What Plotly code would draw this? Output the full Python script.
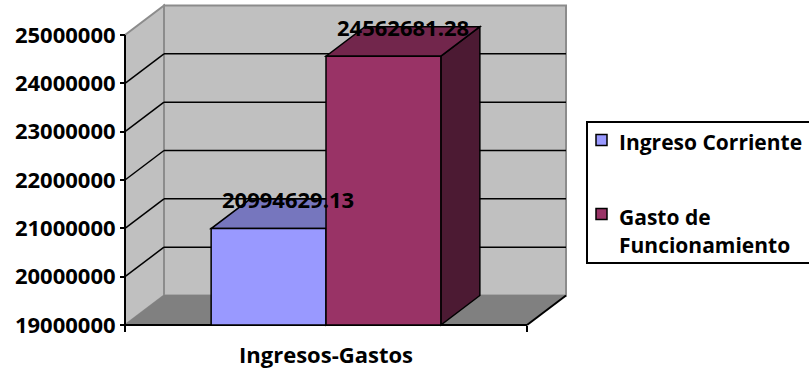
import plotly.graph_objects as go

# ---- data ----
category = "Ingresos-Gastos"
series_names = ["Ingreso Corriente", "Gasto de Funcionamiento"]
legend_lines = [["Ingreso Corriente"], ["Gasto de", "Funcionamiento"]]
values = [20994629.13, 24562681.28]
label_texts = ["20994629.13", "24562681.28"]
y_ticks = [19000000, 20000000, 21000000, 22000000, 23000000, 24000000, 25000000]

front_colors = ["#9999FF", "#993366"]
top_colors = ["#7676BE", "#72264C"]
side_colors = ["#4C4C80", "#4C1A33"]

# ---- geometry (layout) ----
W, H = 809, 368
AX_L, AX_R = 125, 527          # front plane pixel extent
AX_T, AX_B = 35, 325
YMIN, YMAX = y_ticks[0], y_ticks[-1]
px_per_val = (AX_B - AX_T) / (YMAX - YMIN)
px_per_x = (AX_R - AX_L) / 1.0
x_range = [-0.5 - AX_L / px_per_x, -0.5 + (W - AX_L) / px_per_x]
y_range = [YMIN - (H - AX_B) / px_per_val, YMAX + AX_T / px_per_val]
DX = 39 / px_per_x             # depth offset in x units
DY = 29.5 / px_per_val         # depth offset in value units
BW = 1 / 3.5                   # bar width (gap width 150%)
BASE = YMIN

FONT = "Open Sans"
FS = 22
FS_LEG = 21


def path(pts):
    return "M " + " L ".join(f"{x},{y}" for x, y in pts) + " Z"


shapes = []


def poly(pts, fill, line_color, lw):
    shapes.append(dict(type="path", path=path(pts), xref="x", yref="y",
                       fillcolor=fill, line=dict(color=line_color, width=lw),
                       layer="below"))


def seg(x0, y0, x1, y1, color, lw):
    shapes.append(dict(type="line", x0=x0, y0=y0, x1=x1, y1=y1, xref="x", yref="y",
                       line=dict(color=color, width=lw), layer="below"))


# walls and floor
poly([(-0.5 + DX, BASE + DY), (0.5 + DX, BASE + DY), (0.5 + DX, YMAX + DY), (-0.5 + DX, YMAX + DY)],
     "#C0C0C0", "#8C8C8C", 2)
poly([(-0.5, BASE), (-0.5, YMAX), (-0.5 + DX, YMAX + DY), (-0.5 + DX, BASE + DY)],
     "#C0C0C0", "#8C8C8C", 2)
poly([(-0.5, BASE), (0.5, BASE), (0.5 + DX, BASE + DY), (-0.5 + DX, BASE + DY)],
     "#808080", "#808080", 1)
# gridlines
for v in y_ticks[1:-1]:
    seg(-0.5, v, -0.5 + DX, v + DY, "black", 1.5)
    seg(-0.5 + DX, v + DY, 0.5 + DX, v + DY, "black", 1.5)
# floor edges / axis lines
seg(-0.5, BASE, 0.5, BASE, "black", 2)
seg(0.5, BASE, 0.5 + DX, BASE + DY, "black", 2)
seg(-0.5, BASE, -0.5, YMAX, "black", 2)

# bar tops / sides
xs = [-BW / 2, BW / 2]
for i, v in enumerate(values):
    x0, x1 = xs[i] - BW / 2, xs[i] + BW / 2
    poly([(x1, BASE), (x1, v), (x1 + DX, v + DY), (x1 + DX, BASE + DY)], side_colors[i], "black", 1.5)
for i, v in enumerate(values):
    x0, x1 = xs[i] - BW / 2, xs[i] + BW / 2
    poly([(x0, v), (x1, v), (x1 + DX, v + DY), (x0 + DX, v + DY)], top_colors[i], "black", 1.5)

fig = go.Figure()
for i, v in enumerate(values):
    fig.add_trace(go.Bar(x=[xs[i]], y=[v - BASE], base=[BASE], width=[BW],
                         name=series_names[i], marker=dict(color=front_colors[i],
                                                           line=dict(color="black", width=1.5)),
                         showlegend=False, hoverinfo="skip"))

annotations = []
for i, v in enumerate(values):
    annotations.append(dict(x=xs[i] + DX / 2, y=v + DY, xref="x", yref="y", text=label_texts[i],
                            showarrow=False, xanchor="center", yanchor="middle",
                            font=dict(family=FONT, size=FS, color="black", weight="bold")))

# legend (manual, box runs past the right edge: draw only top, left and bottom sides)
LX0, LY0, LY1 = 587, 122, 263
XR = 1.05
shapes.append(dict(type="path", xref="paper", yref="paper",
                   path=f"M {XR},{1 - LY0 / H} L {LX0 / W},{1 - LY0 / H} L {LX0 / W},{1 - LY1 / H} L {XR},{1 - LY1 / H}",
                   line=dict(color="black", width=2), layer="above"))
leg_sq = [140, 214]
leg_text = [[142], [217, 245]]
for i, lines in enumerate(legend_lines):
    cy = leg_sq[i]
    shapes.append(dict(type="rect", xref="paper", yref="paper", x0=596 / W, x1=607 / W,
                       y0=1 - (cy + 5.5) / H, y1=1 - (cy - 5.5) / H,
                       line=dict(color="black", width=1.5), fillcolor=front_colors[i], layer="above"))
    for ln, ty in zip(lines, leg_text[i]):
        annotations.append(dict(x=617 / W, y=1 - ty / H, xref="paper", yref="paper", text=ln,
                                showarrow=False, xanchor="left", yanchor="middle", align="left",
                                font=dict(family=FONT, size=FS_LEG, color="black", weight="bold")))

fig.update_layout(
    width=W, height=H, margin=dict(l=0, r=0, t=0, b=0),
    paper_bgcolor="white", plot_bgcolor="white", barmode="overlay",
    shapes=shapes, annotations=annotations, showlegend=False,
    xaxis=dict(range=x_range, showgrid=False, zeroline=False, showline=False,
               anchor="free", position=(H - AX_B) / H,
               tickmode="array", tickvals=[0], ticktext=[category], ticks="",
               ticklabelstandoff=15,
               tickfont=dict(family=FONT, size=FS, color="black", weight="bold"),
               minor=dict(tickmode="array", tickvals=[-0.5, 0.5], ticks="outside",
                          ticklen=6, tickwidth=2, tickcolor="black", showgrid=False)),
    yaxis=dict(range=y_range, showgrid=False, zeroline=False, showline=False,
               anchor="free", position=AX_L / W,
               tickmode="array", tickvals=y_ticks, ticktext=[str(t) for t in y_ticks],
               ticks="outside", ticklen=5, tickwidth=2, tickcolor="black",
               tickfont=dict(family=FONT, size=FS, color="black", weight="bold")),
)

fig.write_html("out.html")
